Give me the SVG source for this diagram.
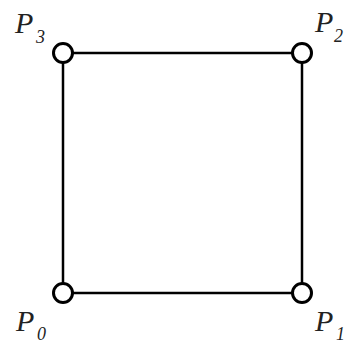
<svg xmlns="http://www.w3.org/2000/svg" width="346" height="344" viewBox="0 0 346 344">
<style>
.edge{stroke:#000;stroke-width:2.5;fill:none}
.pt{fill:#fff;stroke:#000;stroke-width:3}
.lbl{font-family:'Liberation Serif','Times New Roman',serif;font-style:italic;fill:#222;font-size:30px}
.sub{font-size:18px}
</style>
<rect width="346" height="344" fill="#fff"/>
<g id="connectors">
<line class="edge" x1="63" y1="53" x2="302" y2="53"/>
<line class="edge" x1="302" y1="53" x2="302" y2="293"/>
<line class="edge" x1="302" y1="293" x2="63" y2="293"/>
<line class="edge" x1="63" y1="293" x2="63" y2="53"/>
</g>
<g id="P3"><circle class="pt" cx="63" cy="53" r="9.5"/><text class="lbl" x="15" y="33">P<tspan class="sub" x="36" y="43">3</tspan></text></g>
<g id="P2"><circle class="pt" cx="302" cy="53" r="9.5"/><text class="lbl" x="315" y="32">P<tspan class="sub" x="334" y="42">2</tspan></text></g>
<g id="P0"><circle class="pt" cx="63" cy="293" r="9.5"/><text class="lbl" x="16" y="331">P<tspan class="sub" x="37" y="340">0</tspan></text></g>
<g id="P1"><circle class="pt" cx="302" cy="293" r="9.5"/><text class="lbl" x="315" y="331">P<tspan class="sub" x="336" y="340">1</tspan></text></g>
</svg>
